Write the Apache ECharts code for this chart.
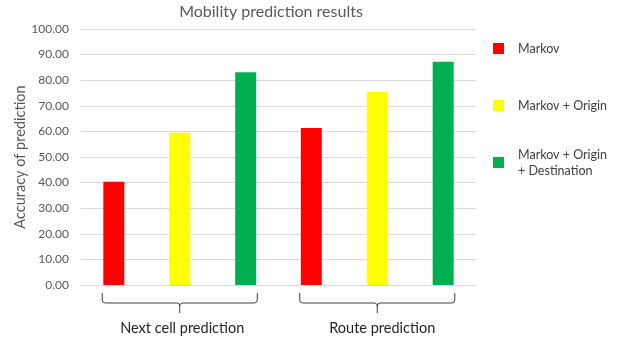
<!DOCTYPE html>
<html>
<head>
<meta charset="utf-8">
<script src="https://cdn.jsdelivr.net/npm/echarts@6/dist/echarts.min.js"></script>
<style>
  html, body { margin: 0; padding: 0; background: #fff; }
  #chart { width: 625px; height: 342px; }
</style>
</head>
<body>
<div id="chart"></div>
<script>
// Prediction tasks on the x axis
const categories = ['Next cell prediction', 'Route prediction'];
// Model variants
const seriesNames = ['Markov', 'Markov + Origin', 'Markov + Origin + Destination'];
const seriesColors = ['#ff0000', '#ffff00', '#00b050'];
// Accuracy (%) per model, one value per task
const markov = [40.3, 61.3];
const markovOrigin = [59.5, 75.5];
const markovOriginDest = [83.1, 87.2];
const values = [markov, markovOrigin, markovOriginDest];
// Y axis range
const yMin = 0, yMax = 100, yStep = 10;

const FONT = 'Lato';
const chart = echarts.init(document.getElementById('chart'), null, { renderer: 'canvas' });

// Curly brace under each category group
function renderBrace(params, api) {
  const idx = api.value(0);
  const base = api.coord([idx, 0]);
  const band = api.size([1, 0])[0];
  const hw = band * 0.3925;
  const xc = base[0], x0 = xc - hw, x1 = xc + hw;
  const y0 = base[1] + 8, y1 = base[1] + 18, y2 = base[1] + 28;
  const r = 3;
  const path =
    `M${x0},${y0} L${x0},${y1 - r} Q${x0},${y1} ${x0 + r},${y1} L${xc - r},${y1} Q${xc},${y1} ${xc},${y1 + r} L${xc},${y2} ` +
    `M${xc},${y1 + r} Q${xc},${y1} ${xc + r},${y1} L${x1 - r},${y1} Q${x1},${y1} ${x1},${y1 - r} L${x1},${y0}`;
  return {
    type: 'path',
    shape: { pathData: path },
    style: { stroke: '#404040', lineWidth: 1, fill: null }
  };
}

const legendCenters = [48.5, 105.5, 162.5];
const legends = seriesNames.map((name, i) => {
  const twoLine = name.indexOf(' + Destination') >= 0;
  return {
    data: [name],
    orient: 'vertical',
    left: 493,
    top: twoLine ? legendCenters[i] - 24 : legendCenters[i] - 8,
    padding: 0,
    itemWidth: 11,
    itemHeight: 11,
    icon: 'rect',
    selectedMode: false,
    formatter: n => n.replace(' + Destination', '\n+ Destination'),
    textStyle: {
      fontFamily: FONT,
      fontSize: 12.5,
      color: '#404040',
      lineHeight: 16,
      padding: twoLine ? [16, 0, 0, 9] : [0, 0, 0, 9]
    }
  };
});

const barSeries = seriesNames.map((name, i) => ({
  name: name,
  type: 'bar',
  data: values[i],
  barWidth: 21,
  barGap: '214%',
  itemStyle: { color: seriesColors[i] },
  silent: true
}));

chart.setOption({
  animation: false,
  title: {
    text: 'Mobility prediction results',
    left: 266,
    textAlign: 'center',
    top: -1,
    textStyle: { fontFamily: FONT, fontSize: 16, fontWeight: 'normal', color: '#595959' }
  },
  legend: legends,
  grid: { left: 81, right: 149, top: 29, bottom: 57, containLabel: false },
  xAxis: {
    type: 'category',
    data: categories.map((c, i) => ({ value: c, textStyle: { padding: i === 1 ? [0, 0, 0, 10] : [0, 0, 0, 5] } })),
    axisTick: { show: false },
    axisLine: { show: true, lineStyle: { color: '#d9d9d9', width: 1 } },
    axisLabel: { margin: 36, fontFamily: FONT, fontSize: 14.5, color: '#262626' },
    splitLine: { show: false }
  },
  yAxis: {
    type: 'value',
    min: yMin,
    max: yMax,
    interval: yStep,
    name: 'Accuracy of prediction',
    nameLocation: 'middle',
    nameGap: 53,
    nameMoveOverlap: false,
    nameTextStyle: { fontFamily: FONT, fontSize: 14.5, color: '#595959' },
    axisLine: { show: false },
    axisTick: { show: false },
    axisLabel: { margin: 12, fontFamily: FONT, fontSize: 12, color: '#595959', formatter: v => v.toFixed(2) },
    splitLine: { lineStyle: { color: '#d9d9d9', width: 1 } }
  },
  series: barSeries.concat([{
    type: 'custom',
    name: 'braces',
    renderItem: renderBrace,
    data: categories.map((c, i) => [i, 0]),
    encode: { x: 0, y: 1 },
    clip: false,
    silent: true,
    z: 5
  }])
});
</script>
</body>
</html>
